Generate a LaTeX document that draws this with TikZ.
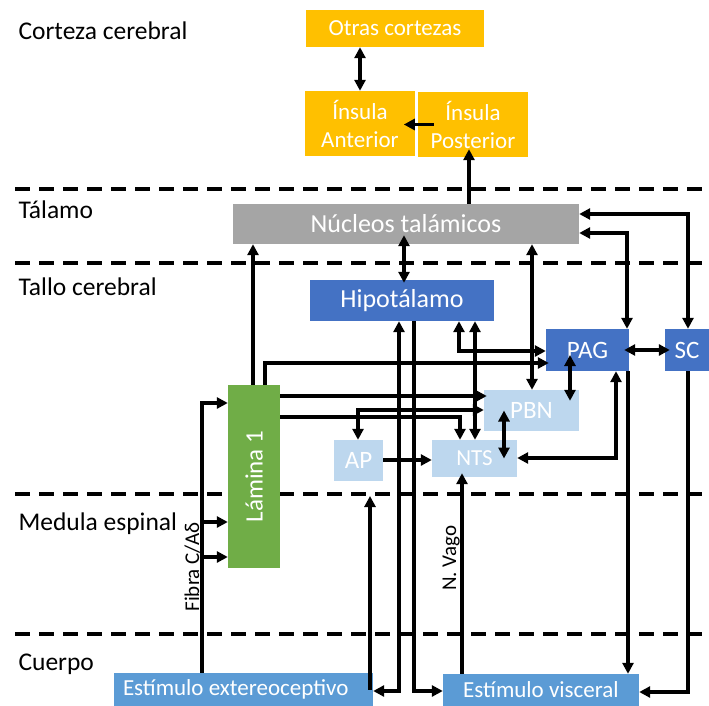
\documentclass[tikz,border=0pt]{standalone}
\usepackage{fontspec}
\setmainfont{Carlito}
\usetikzlibrary{arrows.meta}
\definecolor{oro}{HTML}{FFC000}
\definecolor{gris}{HTML}{A5A5A5}
\definecolor{azul}{HTML}{4472C4}
\definecolor{celeste}{HTML}{BDD7EE}
\definecolor{verde}{HTML}{70AD47}
\definecolor{medio}{HTML}{5B9BD5}
\tikzset{
  nbox/.style={inner sep=0pt, text=white},
  fbig/.style={font=\fontsize{26}{30}\selectfont},
  fmid/.style={font=\fontsize{25}{30}\selectfont},
  fsm/.style={font=\fontsize{23}{28}\selectfont},
  lbl/.style={anchor=base west, font=\fontsize{25.5}{30}\selectfont},
  smalltxt/.style={font=\fontsize{21}{24}\selectfont},
  con/.style={line width=3.2pt, -{Triangle[length=11pt,width=11pt]}},
  dcon/.style={line width=3.2pt, {Triangle[length=11pt,width=11pt]}-{Triangle[length=11pt,width=11pt]}},
  sepline/.style={line width=3.2pt, dash pattern=on 15pt off 9pt},
}
\begin{document}
\begin{tikzpicture}[x=1pt,y=-1pt]
\path[use as bounding box] (0,0) rectangle (709,706);

% separators
\draw[sepline] (15,189) -- (709,189);
\draw[sepline] (15,263) -- (709,263);
\draw[sepline] (15,494) -- (709,494);
\draw[sepline] (15,634) -- (709,634);

% level labels
\node[lbl] (l1) at (15,40) {Corteza cerebral};
\node[lbl] (l2) at (15,218) {Tálamo};
\node[lbl] (l3) at (15,295) {Tallo cerebral};
\node[lbl] (l4) at (15,530) {Medula espinal};
\node[lbl] (l5) at (15,670) {Cuerpo};

% nodes
\node[nbox, fsm, fill=oro, minimum width=178pt, minimum height=37pt] (otras) at (395,28.5) {Otras cortezas};
\node[nbox, fsm, fill=oro, minimum width=110pt, minimum height=65pt, align=center] (insA) at (360,123.5) {Ínsula\\Anterior};
\node[nbox, fsm, fill=oro, minimum width=110pt, minimum height=65pt, align=center] (insP) at (473,124.5) {Ínsula\\Posterior};
\node[nbox, fbig, fill=gris, minimum width=346pt, minimum height=40pt] (nuc) at (406,224) {Núcleos talámicos};
\node[nbox, fbig, fill=azul, minimum width=184pt, minimum height=41pt] (hip) at (402,300.5) {Hipotálamo};
\node[nbox, fmid, fill=azul, minimum width=83pt, minimum height=42pt] (pag) at (587.5,350) {PAG};
\node[nbox, fmid, fill=azul, minimum width=44pt, minimum height=42pt] (sc) at (687,350) {SC};
\node[nbox, fmid, fill=celeste, minimum width=95pt, minimum height=41pt] (pbn) at (531.5,410.5) {PBN};
\node[nbox, fmid, fill=celeste, minimum width=49pt, minimum height=41pt] (ap) at (358.5,460.5) {AP};
\node[nbox, fsm, fill=celeste, minimum width=85pt, minimum height=37pt] (nts) at (474.5,458.5) {NTS};
\node[nbox, fmid, fill=verde, minimum width=52pt, minimum height=183pt] (lam) at (254,476.5) {\rotatebox{90}{Lámina 1}};
\node[nbox, fsm, fill=medio, minimum width=259pt, minimum height=33pt, inner xsep=9pt] (estE) at (243.5,689.5) {\makebox[241pt][l]{Estímulo extereoceptivo}};
\node[nbox, fsm, fill=medio, minimum width=196pt, minimum height=32pt] (estV) at (541,690) {Estímulo visceral};

% small rotated labels
\node[smalltxt, rotate=90, anchor=base] (fibra) at (199,567) {Fibra C/Aδ};
\node[smalltxt, rotate=90, anchor=base] (vago) at (456,558) {N. Vago};

% columns and rows
\foreach \c in {202,253,265,358,360,370,399,404,414,459,460,462,469,475,504,532,570,616,627,628,688}
  \coordinate (X\c) at (\c,0);
\foreach \r in {214,233,350,351,363,396,403,410,417,458,460,522,557,691,692}
  \coordinate (Y\r) at (0,\r);
\coordinate (apin) at (370,496);

% connectors
\draw[dcon] (otras.south -| X360) -- (insA.north -| X360);
\draw[con] ([xshift=16pt]insP.west) -- ++(-30,0);
\draw[con, shorten >=-8pt] (nuc.north -| X469) -- (insP.south -| X469);
\draw[dcon, shorten <=-9pt, shorten >=-3pt] (nuc.south -| X404) -- (hip.north -| X404);
\draw[con] (lam.north -| X253) -- (nuc.south -| X253);
\draw[con] (lam.north -| X265) |- ([xshift=3pt]pag.west |- Y363);
\draw[dcon] (hip.south -| X459) |- (pag.west |- Y351);
\draw[dcon] (hip.south -| X475) -- (nts.north -| X475);
\draw[con] (lam.east |- Y396) -- ([xshift=3pt]pbn.west |- Y396);
\draw[dcon] (ap.north -| X358) |- (pbn.west |- Y410);
\draw[con] (lam.east |- Y417) -| (nts.north -| X460);
\draw[con] (ap.east |- Y460) -- (nts.west |- Y460);
\draw[dcon] (pbn.center -| X504) -- (nts.center -| X504);
\draw[dcon, shorten <=5pt, shorten >=-11pt] (pag.center -| X570) -- (pbn.north -| X570);
\draw[dcon] (nuc.south -| X532) -- (pbn.north -| X532);
\draw[dcon] (nts.east |- Y458) -| (pag.south -| X616);
\draw[dcon, shorten <=-5pt, shorten >=-5pt] (pag.east |- Y350) -- (sc.west |- Y350);
\draw[dcon] (nuc.east |- Y233) -| (pag.north -| X627);
\draw[dcon] (nuc.east |- Y214) -| (sc.north -| X688);
\draw[con] (sc.south -| X688) |- (estV.east |- Y692);
\draw[con] (pag.south -| X628) -- (estV.north -| X628);
\draw[con, shorten >=-4pt] (estV.north -| X462) -- (nts.south -| X462);
\draw[con] (hip.south -| X414) |- (estV.west |- Y691);
\draw[dcon] (estE.east |- Y691) -| (hip.south -| X399);
\draw[con] (estE.center -| X370) -- (apin);
\draw[con] (estE.north -| X202) |- (lam.west |- Y403);
\draw[con] (X202 |- Y522) -- (lam.west |- Y522);
\draw[con] (X202 |- Y557) -- (lam.west |- Y557);
\end{tikzpicture}
\end{document}
